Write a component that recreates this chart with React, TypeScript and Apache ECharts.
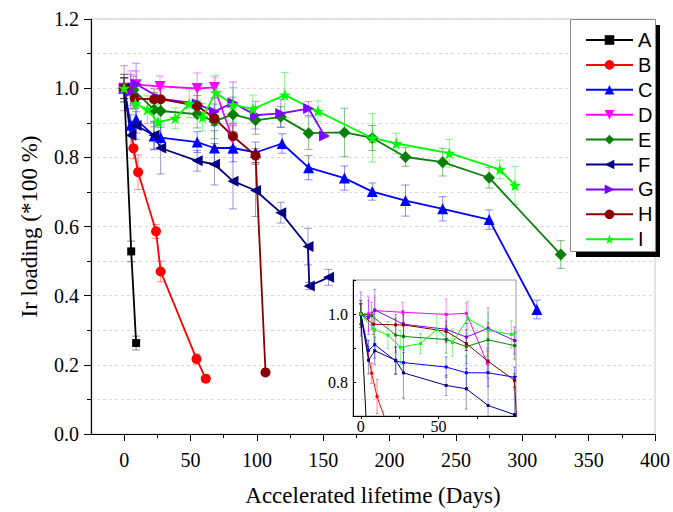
import React, { useEffect, useRef } from "react";
import * as echarts from "echarts";

// ---- data (days, Ir loading fraction, error) ----
const A_x = [0, 5.3, 9];
const A_y = [1.0, 0.528, 0.263];
const A_e = [0.03, 0.03, 0.02];

const B_x = [0, 7, 10.5, 24, 27.5, 54.5, 61.5];
const B_y = [1.0, 0.826, 0.757, 0.586, 0.47, 0.217, 0.16];
const B_e = [0.03, 0.03, 0.05, 0.02, 0.03, 0.015, 0.005];

const C_x = [0, 5, 9, 22.5, 27.5, 55, 68, 82, 99, 119, 139, 166, 187, 212, 240, 275, 311];
const C_y = [1.0, 0.893, 0.91, 0.862, 0.857, 0.844, 0.827, 0.827, 0.814, 0.84, 0.77, 0.74, 0.701, 0.675, 0.651, 0.62, 0.36];
const C_e = [0.03, 0.03, 0.04, 0.04, 0.03, 0.03, 0.05, 0.04, 0.03, 0.028, 0.035, 0.035, 0.025, 0.045, 0.035, 0.028, 0.027];

const D_x = [0, 5, 9, 27, 55, 68, 81.5];
const D_y = [1.0, 1.0, 1.01, 1.005, 0.999, 1.002, 0.855];
const D_e = [0.04, 0.05, 0.04, 0.03, 0.045, 0.03, 0.04];

const E_x = [0, 7, 22.5, 27.5, 55, 68, 82, 99, 118, 139, 166, 187, 212, 240, 275, 329];
const E_y = [1.0, 0.995, 0.938, 0.934, 0.925, 0.904, 0.924, 0.907, 0.917, 0.87, 0.872, 0.856, 0.801, 0.786, 0.741, 0.519];
const E_e = [0.03, 0.04, 0.05, 0.04, 0.04, 0.05, 0.05, 0.04, 0.03, 0.047, 0.07, 0.036, 0.027, 0.04, 0.03, 0.04];

const F_x = [0, 5, 9, 22.5, 27.5, 55, 68, 82, 99, 118, 138.5, 139.5, 154];
const F_y = [1.0, 0.864, 0.892, 0.864, 0.827, 0.79, 0.78, 0.731, 0.704, 0.64, 0.542, 0.428, 0.453];
const F_e = [0.04, 0.04, 0.04, 0.04, 0.075, 0.03, 0.06, 0.08, 0.075, 0.03, 0.053, 0.01, 0.023];

const G_x = [0, 5, 9, 27.5, 55, 68, 82, 99, 118, 139, 151];
const G_y = [1.0, 0.99, 1.012, 0.97, 0.955, 0.932, 0.958, 0.922, 0.927, 0.941, 0.862];
const G_e = [0.065, 0.05, 0.06, 0.04, 0.04, 0.04, 0.06, 0.04, 0.04, 0.02, 0.005];

const H_x = [0, 8, 22.5, 27.5, 55, 68, 82, 99, 106.5];
const H_y = [1.0, 0.97, 0.968, 0.968, 0.949, 0.913, 0.861, 0.805, 0.178];
const H_e = [0.03, 0.03, 0.03, 0.03, 0.03, 0.02, 0.03, 0.02, 0.005];

const I_x = [0, 8.5, 17.5, 25.5, 38.5, 49, 59, 69, 82, 97, 121, 146, 187, 205, 245, 283, 294.5];
const I_y = [1.0, 0.955, 0.938, 0.902, 0.913, 0.955, 0.916, 0.987, 0.952, 0.94, 0.98, 0.933, 0.856, 0.84, 0.812, 0.765, 0.719];
const I_e = [0.04, 0.05, 0.04, 0.05, 0.03, 0.04, 0.04, 0.05, 0.05, 0.04, 0.065, 0.03, 0.07, 0.03, 0.04, 0.027, 0.055];

const X_TICKS = [0, 50, 100, 150, 200, 250, 300, 350, 400];
const X_MINOR = [25, 75, 125, 175, 225, 275, 325, 375];
const INSET_X_TICKS = [0, 25, 50, 75];
const INSET_X_LABELS = [0, 50];

const STAR = "path://M0,-10 L2.35,-3.24 9.51,-3.09 3.8,1.24 5.88,8.09 0,4 -5.88,8.09 -3.8,1.24 -9.51,-3.09 -2.35,-3.24Z";

const SERIES = [
  { name: "A", x: A_x, y: A_y, e: A_e, color: "#000000", err: "rgba(0,0,0,0.45)", symbol: "rect", rot: 0, size: 8 },
  { name: "B", x: B_x, y: B_y, e: B_e, color: "#ff0000", err: "rgba(255,0,0,0.45)", symbol: "circle", rot: 0, size: 10 },
  { name: "C", x: C_x, y: C_y, e: C_e, color: "#0000ff", err: "rgba(0,0,255,0.45)", symbol: "triangle", rot: 0, size: 11 },
  { name: "D", x: D_x, y: D_y, e: D_e, color: "#ff00ff", err: "rgba(255,0,255,0.45)", symbol: "triangle", rot: 180, size: 11 },
  { name: "E", x: E_x, y: E_y, e: E_e, color: "#0a800a", err: "rgba(10,128,10,0.5)", symbol: "diamond", rot: 0, size: 12 },
  { name: "F", x: F_x, y: F_y, e: F_e, color: "#000080", err: "rgba(0,0,128,0.4)", symbol: "triangle", rot: 90, size: 11 },
  { name: "G", x: G_x, y: G_y, e: G_e, color: "#8000ff", err: "rgba(128,0,255,0.45)", symbol: "triangle", rot: -90, size: 11 },
  { name: "H", x: H_x, y: H_y, e: H_e, color: "#880000", err: "rgba(136,0,0,0.45)", symbol: "circle", rot: 0, size: 10 },
  { name: "I", x: I_x, y: I_y, e: I_e, color: "#00ff00", err: "rgba(0,220,0,0.45)", symbol: STAR, rot: 0, size: 12 },
];

function errRender(cap: number, color: string) {
  return (params: any, api: any) => {
    const x = api.value(0);
    const lo = api.value(1);
    const hi = api.value(2);
    const p1 = api.coord([x, hi]);
    const p2 = api.coord([x, lo]);
    const st = { stroke: color, lineWidth: 1, fill: "none" };
    return {
      type: "group",
      children: [
        { type: "line", shape: { x1: p1[0], y1: p1[1], x2: p2[0], y2: p2[1] }, style: st },
        { type: "line", shape: { x1: p1[0] - cap, y1: p1[1], x2: p1[0] + cap, y2: p1[1] }, style: st },
        { type: "line", shape: { x1: p2[0] - cap, y1: p2[1], x2: p2[0] + cap, y2: p2[1] }, style: st },
      ],
    };
  };
}

export default function App() {
  const ref = useRef<HTMLDivElement>(null);
  useEffect(() => {
    if (!ref.current) return;
    const chart = echarts.init(ref.current, null, { renderer: "svg" });
    const serif = "Liberation Serif";
    const series: any[] = [];
    SERIES.forEach((s) => {
      series.push({
        name: s.name + "-err",
        type: "custom",
        xAxisIndex: 0,
        yAxisIndex: 0,
        renderItem: errRender(4, s.err),
        data: s.x.map((xv, i) => [xv, s.y[i] - s.e[i], s.y[i] + s.e[i]]),
        encode: { x: 0, y: [1, 2] },
        z: 2,
        silent: true,
      });
    });
    SERIES.forEach((s) => {
      series.push({
        name: s.name,
        type: "line",
        xAxisIndex: 0,
        yAxisIndex: 0,
        data: s.x.map((xv, i) => [xv, s.y[i]]),
        symbol: s.symbol,
        symbolSize: s.size,
        symbolRotate: s.rot,
        showAllSymbol: true,
        lineStyle: { color: s.color, width: 1.8 },
        itemStyle: { color: s.color, borderWidth: 0 },
        z: 3,
      });
    });
    SERIES.forEach((s) => {
      series.push({
        name: s.name + "-ierr",
        type: "custom",
        xAxisIndex: 2,
        yAxisIndex: 1,
        clip: true,
        renderItem: errRender(1.5, s.err),
        data: s.x.map((xv, i) => [xv, s.y[i] - s.e[i], s.y[i] + s.e[i]]),
        encode: { x: 0, y: [1, 2] },
        z: 2,
        silent: true,
      });
    });
    SERIES.forEach((s) => {
      series.push({
        name: s.name,
        type: "line",
        xAxisIndex: 2,
        yAxisIndex: 1,
        clip: true,
        data: s.x.map((xv, i) => [xv, s.y[i]]),
        symbol: "rect",
        symbolSize: 3,
        showAllSymbol: true,
        lineStyle: { color: s.color, width: 1 },
        itemStyle: { color: s.color },
        z: 3,
      });
    });

    chart.setOption({
      animation: false,
      backgroundColor: "#ffffff",
      grid: [
        { left: 91, top: 19, width: 564, height: 419, show: true, borderColor: "#c8c8c8", borderWidth: 1, backgroundColor: "transparent" },
        { left: 353, top: 280, width: 163, height: 136, show: true, borderColor: "#9a9a9a", borderWidth: 1, backgroundColor: "transparent" },
      ],
      xAxis: [
        {
          type: "value",
          gridIndex: 0,
          min: -25,
          max: 400,
          name: "Accelerated lifetime (Days)",
          nameLocation: "middle",
          nameGap: 50,
          nameTextStyle: { fontFamily: serif, fontSize: 23, color: "#000" },
          axisLine: { show: true, onZero: false, lineStyle: { color: "#000", width: 1.2 } },
          axisTick: { show: true, customValues: X_TICKS, length: 7, lineStyle: { color: "#000" } },
          axisLabel: { customValues: X_TICKS, fontFamily: serif, fontSize: 20, color: "#000", margin: 16 },
          splitLine: { show: false },
        },
        {
          type: "value",
          gridIndex: 0,
          min: -25,
          max: 400,
          position: "bottom",
          axisLine: { show: false },
          axisTick: { show: true, customValues: X_MINOR, length: 4, lineStyle: { color: "#000" } },
          axisLabel: { show: false },
          splitLine: { show: false },
        },
        {
          type: "value",
          gridIndex: 1,
          min: -5,
          max: 100,
          axisLine: { show: true, onZero: false, lineStyle: { color: "#000", width: 1 } },
          axisTick: { show: true, customValues: INSET_X_TICKS, length: 3, lineStyle: { color: "#000" } },
          axisLabel: { customValues: INSET_X_LABELS, fontFamily: serif, fontSize: 16, color: "#000", margin: 2 },
          splitLine: { show: false },
        },
      ],
      yAxis: [
        {
          type: "value",
          gridIndex: 0,
          min: 0,
          max: 1.2,
          interval: 0.2,
          name: "Ir loading (*100 %)",
          nameLocation: "middle",
          nameGap: 50,
          nameTextStyle: { fontFamily: serif, fontSize: 23, color: "#000" },
          axisLine: { show: true, onZero: false, lineStyle: { color: "#000", width: 1.2 } },
          axisTick: { show: true, length: 7, lineStyle: { color: "#000" } },
          minorTick: { show: true, splitNumber: 2, length: 4, lineStyle: { color: "#000" } },
          axisLabel: { formatter: (v: number) => v.toFixed(1), fontFamily: serif, fontSize: 20, color: "#000", margin: 12 },
          splitLine: { show: true, lineStyle: { color: "#d8d8d8", type: [3, 3] } },
          minorSplitLine: { show: true, lineStyle: { color: "#d8d8d8", type: [3, 3] } },
        },
        {
          type: "value",
          gridIndex: 1,
          min: 0.7,
          max: 1.1,
          interval: 0.1,
          axisLine: { show: true, onZero: false, lineStyle: { color: "#000", width: 1 } },
          axisTick: { show: true, length: 3, inside: true, lineStyle: { color: "#000" } },
          axisLabel: {
            formatter: (v: number) => (Math.abs(v - 0.8) < 1e-6 ? "0.8" : Math.abs(v - 1.0) < 1e-6 ? "1.0" : ""),
            fontFamily: serif,
            fontSize: 16,
            color: "#000",
            margin: 5,
          },
          splitLine: { show: false },
        },
      ],
      legend: {
        show: true,
        data: SERIES.map((s) => s.name),
        orient: "vertical",
        left: 580,
        top: 25,
        itemWidth: 47,
        itemHeight: 12,
        itemGap: 4.9,
        selectedMode: false,
        textStyle: { fontFamily: "Liberation Sans", fontSize: 20, color: "#000", lineHeight: 20 },
        z: 6,
      },
      graphic: [
        { type: "rect", shape: { x: 576, y: 25, width: 84, height: 232 }, style: { fill: "#000" }, z: 4 },
        { type: "rect", shape: { x: 570.5, y: 19.5, width: 85, height: 232 }, style: { fill: "#fff", stroke: "#8a8a8a", lineWidth: 1 }, z: 5 },
      ],
      series,
    });
    return () => chart.dispose();
  }, []);
  return <div ref={ref} style={{ position: "absolute", left: 0, top: 0, width: 673, height: 512 }} />;
}
